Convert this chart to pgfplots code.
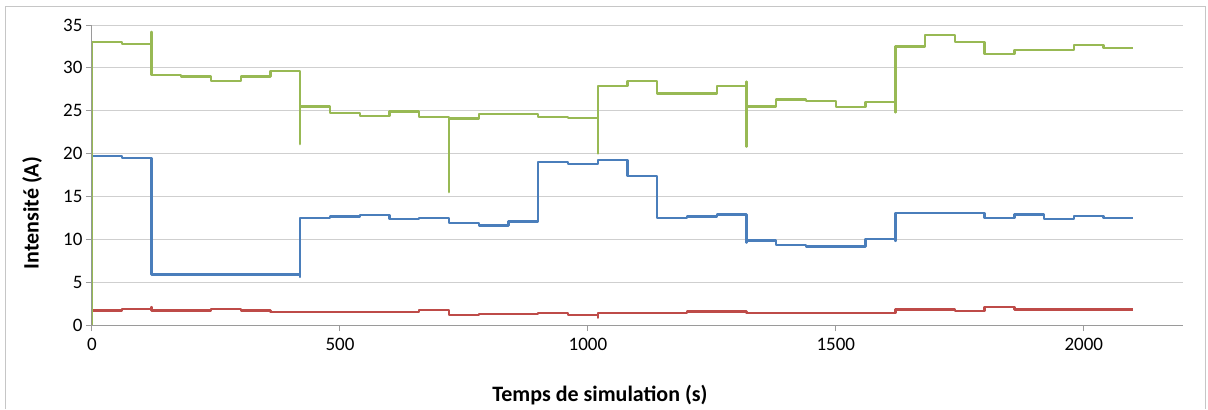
\documentclass[border=0pt]{standalone}
\usepackage{fontspec}
\setmainfont{Carlito}
\usepackage{pgfplots}
\pgfplotsset{compat=1.18}
\definecolor{exblue}{HTML}{4A7EBB}
\definecolor{exred}{HTML}{BE4B48}
\definecolor{exgreen}{HTML}{98B954}
\definecolor{gridgray}{HTML}{CFCFCF}
\definecolor{axgray}{HTML}{9A9A9A}
\begin{document}
\begin{tikzpicture}
\begin{axis}[
  anchor=south west, at={(0pt,0pt)},
  scale only axis, width=1091pt, height=300pt,
  xmin=0, xmax=2200, ymin=0, ymax=35,
  xtick={0,500,1000,1500,2000}, ytick={0,5,...,35},
  axis x line*=bottom, axis y line*=left,
  axis line style={draw=axgray, line width=1pt, -},
  ymajorgrids, grid style={gridgray, line width=1pt},
  tick align=outside, major tick length=6pt,
  tick style={axgray, line width=1pt},
  /pgf/number format/assume math mode=true,
  /pgf/number format/1000 sep={},
  ticklabel style={font=\fontsize{19}{22}\selectfont},
  xticklabel style={yshift=-4pt},
  xlabel={Temps de simulation (s)},
  ylabel={Intensité (A)},
  label style={font=\fontsize{22}{26}\selectfont\bfseries},
  xlabel style={at={(axis description cs:0.4656,-0.2333)}, anchor=center},
  ylabel style={at={(axis description cs:-0.055,0.373)}, anchor=center},
  every axis plot/.append style={line width=2.3pt, line join=round, const plot mark left},
]
% red series
\addplot[exred] coordinates {
(0,0) (0,1.7) (60,1.84) (120,2.1) (120,1.7) (180,1.7) (240,1.85) (300,1.7) (360,1.55)
(420,1.55) (480,1.55) (540,1.55) (600,1.52) (660,1.72) (720,1.17) (780,1.29) (840,1.29)
(900,1.4) (960,1.13) (1020,0.85) (1020,1.4) (1080,1.4) (1140,1.4) (1200,1.56) (1260,1.56)
(1320,1.37) (1380,1.37) (1440,1.37) (1500,1.37) (1560,1.37) (1620,1.8) (1680,1.8)
(1740,1.64) (1800,2.07) (1860,1.8) (1920,1.8) (1980,1.8) (2040,1.8) (2100,1.8)
};
% blue series
\addplot[exblue] coordinates {
(0,0) (0,19.7) (60,19.5) (120,5.9) (180,5.9) (240,5.9) (300,5.9) (360,5.9)
(420,5.6) (420,12.5) (480,12.65) (540,12.8) (600,12.35) (660,12.5) (720,11.9) (780,11.6)
(840,12.07) (900,19.0) (960,18.75) (1020,19.25) (1080,17.4) (1140,12.45) (1200,12.65)
(1260,12.9) (1320,9.6) (1320,9.85) (1380,9.35) (1440,9.15) (1500,9.15) (1560,10.05)
(1620,9.8) (1620,13.05) (1680,13.05) (1740,13.05) (1800,12.45) (1860,12.9) (1920,12.35)
(1980,12.7) (2040,12.45) (2100,12.45)
};
% green series
\addplot[exgreen] coordinates {
(0,0) (0,33.0) (60,32.8) (120,34.2) (120,29.2) (180,29.0) (240,28.5) (300,29.0) (360,29.6)
(420,21.1) (420,25.5) (480,24.7) (540,24.4) (600,24.9) (660,24.3) (720,15.5) (720,24.1)
(780,24.6) (840,24.6) (900,24.3) (960,24.15) (1020,20.0) (1020,27.9) (1080,28.5)
(1140,27.0) (1200,27.0) (1260,27.9) (1320,28.4) (1320,20.8) (1320,25.5) (1380,26.3)
(1440,26.15) (1500,25.4) (1560,26.05) (1620,24.8) (1620,32.5) (1680,33.8) (1740,33.05)
(1800,31.6) (1860,32.1) (1920,32.1) (1980,32.7) (2040,32.35) (2100,32.35)
};
\end{axis}
\draw[gray!45, line width=1pt] (-86pt,-84pt) -- (-86pt,318pt) -- (1113pt,318pt) -- (1113pt,-84pt);
\path[use as bounding box] (-92pt,-83pt) rectangle (1116pt,325pt);
\end{tikzpicture}
\end{document}
